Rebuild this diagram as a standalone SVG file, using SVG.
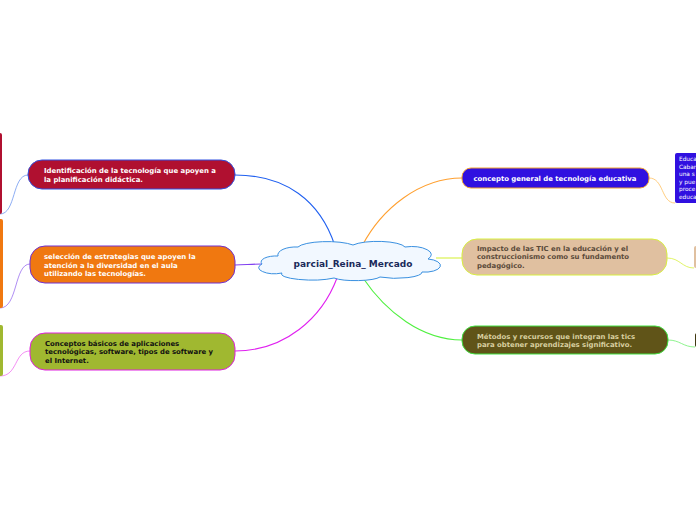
<svg xmlns="http://www.w3.org/2000/svg" width="696" height="520" viewBox="0 0 696 520">
<style>
.t{font-family:"DejaVu Sans",Verdana,sans-serif;font-weight:bold;font-size:6.9px}
.w{fill:#ffffff}
.s{font-family:"DejaVu Sans",Verdana,sans-serif;font-size:5.8px;fill:#ffffff}
</style>
<rect width="696" height="520" fill="#ffffff"/>
<g id="connectors" fill="none" stroke-width="1.1">
<path d="M335,246 C320,200 285,175 235,175" stroke="#2060f0"/>
<path d="M262,264 C250,264 245,265 235,265" stroke="#8040f0"/>
<path d="M337,278 C322,318 285,351 235,351" stroke="#e020f0"/>
<path d="M362,246 C382,208 420,178 462,178" stroke="#ffa030"/>
<path d="M436,258 L462,258" stroke="#d8f040"/>
<path d="M363,278 C386,312 422,340 462,340" stroke="#50f040"/>
<path d="M28,175 C12,175 16,214 0,214" stroke="#7098f0" stroke-width="0.8"/>
<path d="M30,264 C14,264 18,308 0,308" stroke="#9a70f0" stroke-width="0.8"/>
<path d="M30,351 C14,351 18,376 0,376" stroke="#f070f0" stroke-width="0.8"/>
<path d="M649,178 C664,178 661,203 675,203" stroke="#ffc060" stroke-width="0.8"/>
<path d="M667,258 C680,258 682,268 694,268" stroke="#d8f040" stroke-width="0.8"/>
<path d="M668,340 C680,340 683,347 695,347" stroke="#70f070" stroke-width="0.8"/>
</g>
<g id="center">
<path d="M278,256 A18,8 0 0 1 298,247 A30,7 0 0 1 353,245 A28,7 0 0 1 405,247 A20,8 0 0 1 428,259 A14,6 0 0 1 422,272 A26,6 0 0 1 380,277 A25,5 0 0 1 334,278 A30,6 0 0 1 282,273 A16,6 0 0 1 262,264 A15,6 0 0 1 278,256 Z" fill="#f2f8ff" stroke="#3a90e0" stroke-width="1"/>
<text x="353" y="267" text-anchor="middle" style="font-family:'DejaVu Sans',Verdana,sans-serif;font-weight:bold;font-size:9px;fill:#1a2a5a">parcial_Reina_ Mercado</text>
</g>
<g id="n1">
<rect x="28" y="160" width="207" height="29" rx="14" fill="#b01030" stroke="#3050e0" stroke-width="1"/>
<text class="t w" x="44" y="173">Identificación de la tecnología que apoyen a</text>
<text class="t w" x="44" y="182">la planificación didáctica.</text>
</g>
<g id="n1s"><rect x="-20" y="133" width="22" height="81" rx="2" fill="#b01030"/></g>
<g id="n2">
<rect x="30" y="246" width="205" height="37" rx="15" fill="#f07810" stroke="#7030d0" stroke-width="1"/>
<text class="t w" x="44" y="259">selección de estrategias que apoyen la</text>
<text class="t w" x="44" y="268">atención a la diversidad en el aula</text>
<text class="t w" x="44" y="276">utilizando las tecnologías.</text>
</g>
<g id="n2s"><rect x="-20" y="219" width="23" height="89" rx="2" fill="#f07810"/></g>
<g id="n3">
<rect x="30" y="333" width="205" height="37" rx="15" fill="#a0b830" stroke="#e020e0" stroke-width="1"/>
<text class="t" x="45" y="346" fill="#101010">Conceptos básicos de aplicaciones</text>
<text class="t" x="45" y="354" fill="#101010">tecnológicas, software, tipos de software y</text>
<text class="t" x="45" y="363" fill="#101010">el Internet.</text>
</g>
<g id="n3s"><rect x="-20" y="325" width="23" height="51" rx="2" fill="#a0b830"/></g>
<g id="n4">
<rect x="462" y="168" width="187" height="20" rx="9" fill="#3010e0" stroke="#f0a030" stroke-width="1"/>
<text class="t w" x="555" y="181" text-anchor="middle">concepto general de tecnología educativa</text>
</g>
<g id="n4s">
<rect x="675" y="153" width="40" height="50" rx="2" fill="#3010e0"/>
<text class="s" x="679" y="161">Educa</text>
<text class="s" x="679" y="168.5">Cabar</text>
<text class="s" x="679" y="176">una  s</text>
<text class="s" x="679" y="183.5">y pue</text>
<text class="s" x="679" y="191">proce</text>
<text class="s" x="679" y="198.5">educa</text>
</g>
<g id="n5">
<rect x="462" y="239" width="205" height="36" rx="15" fill="#e0c0a0" stroke="#d8f040" stroke-width="1"/>
<text class="t" x="477" y="251" fill="#5a4a3a">Impacto de las TIC en la educación y el</text>
<text class="t" x="477" y="259" fill="#5a4a3a">construccionismo como su fundamento</text>
<text class="t" x="477" y="268" fill="#5a4a3a">pedagógico.</text>
</g>
<g id="n5s"><rect x="694" y="246" width="20" height="22" rx="2" fill="#e0c0a0"/></g>
<g id="n6">
<rect x="462" y="326" width="206" height="28" rx="13" fill="#605418" stroke="#40e040" stroke-width="1"/>
<text class="t" x="477" y="339" fill="#d8d0a0">Métodos y recursos que integran las tics</text>
<text class="t" x="477" y="347" fill="#d8d0a0">para obtener aprendizajes significativo.</text>
</g>
<g id="n6s"><rect x="695" y="333" width="20" height="14" rx="2" fill="#403810"/></g>
</svg>
